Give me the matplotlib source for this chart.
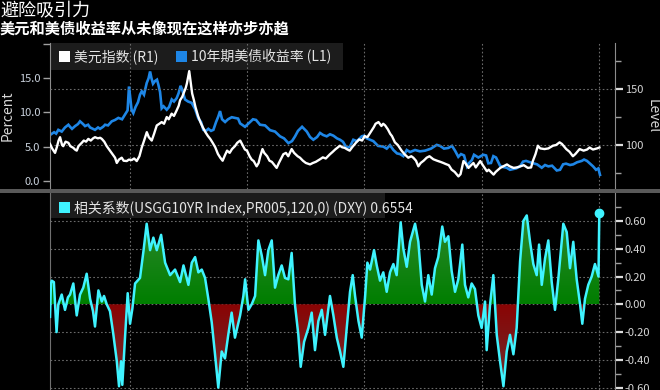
import numpy as np
import matplotlib
matplotlib.use("Agg")
import matplotlib.pyplot as plt
from matplotlib.patches import Rectangle
from matplotlib.path import Path
from matplotlib.colors import LinearSegmentedColormap

plt.rcParams['font.family'] = ['Noto Sans CJK SC', 'DejaVu Sans']

TITLE = "避险吸引力"
SUBTITLE = "美元和美债收益率从未像现在这样亦步亦趋"
DXY_LABEL = "美元指数 (R1)"
YLD_LABEL = "10年期美债收益率 (L1)"
CORR_LABEL = "相关系数(USGG10YR Index,PR005,120,0) (DXY) 0.6554"

# dollar index (right axis, level)
dxy_year = [1973.17, 1973.35, 1973.60, 1973.75, 1973.90, 1974.03, 1974.20, 1974.30, 1974.50, 1974.74,
            1974.90, 1975.16, 1975.30, 1975.45, 1975.60, 1975.88, 1976.05, 1976.25, 1976.44, 1976.65,
            1976.85, 1977.01, 1977.25, 1977.45, 1977.59, 1977.80, 1978.01, 1978.15, 1978.29, 1978.50,
            1978.72, 1978.87, 1979.05, 1979.29, 1979.45, 1979.72, 1979.90, 1980.14, 1980.35, 1980.57,
            1980.80, 1981.00, 1981.20, 1981.43, 1981.60, 1981.85, 1982.05, 1982.28, 1982.50, 1982.70,
            1982.90, 1983.13, 1983.30, 1983.55, 1983.75, 1983.98, 1984.15, 1984.27, 1984.45, 1984.56,
            1984.75, 1984.85, 1985.05, 1985.15, 1985.30, 1985.45, 1985.58, 1985.80, 1986.00, 1986.20,
            1986.43, 1986.65, 1986.84, 1987.05, 1987.27, 1987.50, 1987.70, 1987.90, 1988.10, 1988.28,
            1988.50, 1988.70, 1988.95, 1989.15, 1989.40, 1989.60, 1989.80, 1989.98, 1990.20, 1990.38,
            1990.55, 1990.80, 1990.97, 1991.11, 1991.30, 1991.45, 1991.70, 1991.90, 1992.10, 1992.33,
            1992.51, 1992.70, 1992.90, 1993.08, 1993.30, 1993.50, 1993.79, 1994.00, 1994.30, 1994.50,
            1994.75, 1995.00, 1995.36, 1995.60, 1995.85, 1996.21, 1996.45, 1996.70, 1997.06, 1997.30,
            1997.50, 1997.91, 1998.10, 1998.31, 1998.55, 1998.74, 1998.95, 1999.30, 1999.55, 1999.80,
            2000.02, 2000.25, 2000.52, 2000.80, 2000.95, 2001.20, 2001.45, 2001.60, 2001.77, 2002.00,
            2002.20, 2002.35, 2002.60, 2002.85, 2003.17, 2003.40, 2003.74, 2004.00, 2004.17, 2004.40,
            2004.60, 2004.80, 2005.05, 2005.31, 2005.55, 2005.88, 2006.20, 2006.48, 2006.73, 2006.95,
            2007.20, 2007.44, 2007.70, 2008.02, 2008.20, 2008.45, 2008.60, 2008.88, 2009.10, 2009.30,
            2009.50, 2009.88, 2010.10, 2010.45, 2010.60, 2011.02, 2011.20, 2011.59, 2011.85, 2012.16,
            2012.40, 2012.73, 2013.00, 2013.30, 2013.60, 2013.94, 2014.22, 2014.37, 2014.60, 2014.80,
            2015.00, 2015.37, 2015.70, 2016.08, 2016.35, 2016.65, 2016.85, 2017.22, 2017.50, 2017.79,
            2018.00, 2018.36, 2018.70, 2019.00, 2019.21, 2019.50, 2019.85, 2020.05]
dxy_level = [101, 97, 93, 98, 104, 107, 100, 99, 103, 102,
             99, 97.5, 96, 95, 99, 102, 104, 103, 105.5, 104,
             106, 107, 106, 106.5, 105.5, 103, 99, 97, 95, 92,
             88.7, 84, 87, 88.7, 86, 85.7, 87, 86.6, 88, 85.7,
             90, 97.8, 104, 111.5, 107, 104, 110, 117.5, 119, 120.5,
             119, 125, 123, 128, 126, 131, 135, 140, 143, 146,
             151, 155, 166, 158, 146, 140, 134, 126, 120.5, 116,
             111.5, 108, 105.5, 102, 98, 92, 88.7, 86, 91, 95,
             93, 96.4, 99, 102, 104, 100, 96, 95, 90, 87,
             85.7, 81, 84, 90, 96.4, 93, 90, 86, 85, 82,
             79.6, 84, 88, 91.8, 93, 90, 96.4, 93, 90, 88.7,
             86, 84, 82.7, 84, 85, 87.3, 89, 88, 91.8, 94,
             96, 99.4, 98, 97.5, 96, 95, 98, 102.4, 105, 104,
             108, 107, 111.5, 116, 119, 120.5, 117, 119, 117.5, 114,
             110, 108, 102.4, 100, 95, 92, 88.7, 90, 88.7, 86,
             81, 84, 86, 88.7, 90, 87.3, 86, 85, 84, 83,
             82, 78, 76, 72, 74, 85.7, 84, 79.6, 82, 84,
             80, 85.7, 82, 76.6, 78, 73.6, 76, 79.6, 81, 82.7,
             81, 79.6, 80, 81, 82, 79.6, 80, 85.7, 92, 99.4,
             97, 96.4, 97, 99.4, 100, 102.4, 101, 96.4, 94, 90,
             92, 96.4, 95, 96, 97.8, 96, 97, 97.8]

# 10y treasury yield (left axis, percent)
yld_year = [1973.17, 1973.52, 1973.69, 1973.88, 1974.17, 1974.45, 1974.74, 1974.88, 1975.05, 1975.31,
            1975.56, 1975.73, 1975.99, 1976.16, 1976.42, 1976.59, 1976.84, 1977.01, 1977.27, 1977.44,
            1977.70, 1977.87, 1978.12, 1978.44, 1978.72, 1979.00, 1979.32, 1979.57, 1979.79, 1979.91,
            1980.04, 1980.13, 1980.28, 1980.47, 1980.68, 1980.85, 1981.00, 1981.19, 1981.42, 1981.58,
            1981.71, 1981.83, 1981.96, 1982.13, 1982.30, 1982.41, 1982.56, 1982.70, 1982.86, 1983.13,
            1983.33, 1983.56, 1983.75, 1983.98, 1984.14, 1984.31, 1984.44, 1984.69, 1984.95, 1985.26,
            1985.55, 1985.83, 1986.06, 1986.25, 1986.48, 1986.68, 1986.91, 1987.11, 1987.34, 1987.53,
            1987.68, 1987.85, 1988.11, 1988.36, 1988.68, 1988.96, 1989.22, 1989.39, 1989.81, 1990.24,
            1990.49, 1990.75, 1991.09, 1991.52, 1991.95, 1992.37, 1992.80, 1993.14, 1993.51, 1993.82,
            1994.08, 1994.33, 1994.51, 1994.68, 1995.08, 1995.36, 1995.64, 1995.96, 1996.21, 1996.47,
            1996.78, 1997.06, 1997.35, 1997.66, 1997.92, 1998.17, 1998.49, 1998.77, 1999.05, 1999.37,
            1999.77, 1999.97, 2000.20, 2000.48, 2000.76, 2001.16, 2001.61, 2001.90, 2002.18, 2002.47,
            2002.78, 2003.04, 2003.32, 2003.61, 2003.89, 2004.32, 2004.74, 2005.17, 2005.68, 2006.17,
            2006.45, 2006.79, 2007.16, 2007.47, 2007.73, 2008.01, 2008.24, 2008.50, 2008.75, 2008.93,
            2009.16, 2009.35, 2009.72, 2010.14, 2010.38, 2010.57, 2010.80, 2011.00, 2011.23, 2011.57,
            2011.83, 2012.14, 2012.42, 2012.68, 2012.94, 2013.28, 2013.53, 2013.79, 2014.13, 2014.41,
            2014.73, 2015.13, 2015.41, 2015.69, 2016.01, 2016.41, 2016.69, 2016.95, 2017.20, 2017.54,
            2017.82, 2018.14, 2018.54, 2018.74, 2018.99, 2019.25, 2019.51, 2019.76, 2019.96, 2020.10]
yld_pct = [6.7, 7.1, 6.9, 7.45, 7.2, 7.8, 8.2, 7.9, 7.6, 8.0,
           8.3, 8.7, 8.3, 8.0, 8.2, 7.8, 7.6, 7.45, 7.8, 7.6,
           7.9, 8.2, 8.1, 8.7, 8.9, 9.2, 9.0, 9.7, 10.3, 13.8,
           11.8, 10.4, 9.9, 10.8, 11.5, 12.6, 13.1, 12.6, 14.3, 15.0,
           16.0, 15.0, 14.2, 14.6, 14.8, 14.1, 13.0, 10.6, 10.9, 10.4,
           10.8, 11.9, 11.6, 12.1, 12.8, 13.9, 13.4, 11.9, 11.6, 11.4,
           10.5, 9.1, 8.6, 7.45, 7.3, 7.6, 7.3, 7.45, 8.6, 9.4,
           10.2, 9.0, 8.6, 9.0, 9.3, 9.2, 9.1, 8.4, 7.9, 8.6,
           9.0, 8.9, 8.2, 8.1, 7.4, 7.2, 6.5, 6.2, 5.5, 5.8,
           6.5, 7.3, 7.6, 7.9, 7.2, 6.4, 6.0, 6.4, 7.0, 6.7,
           6.5, 6.8, 6.6, 6.2, 6.0, 5.7, 4.8, 5.0, 6.0, 5.8,
           6.5, 6.6, 6.2, 6.0, 5.8, 5.1, 5.0, 4.7, 5.2, 4.5,
           4.0, 3.9, 3.6, 4.5, 4.2, 4.5, 4.3, 4.4, 4.7, 5.25,
           5.1, 4.7, 4.8, 5.1, 4.4, 3.5, 3.9, 3.7, 2.1, 2.6,
           3.0, 3.8, 3.4, 3.8, 3.7, 2.55, 2.6, 3.6, 3.4, 2.2,
           2.0, 1.9, 1.6, 1.7, 1.8, 2.1, 2.8, 2.9, 2.7, 2.55,
           2.4, 1.9, 2.3, 2.1, 2.2, 1.5, 1.6, 2.4, 2.5, 2.3,
           2.4, 2.7, 2.9, 3.1, 2.9, 2.5, 2.1, 1.6, 1.8, 0.85]

# rolling correlation, yield vs dollar index
corr_year = [1973.17, 1973.25, 1973.32, 1973.50, 1973.73, 1973.88, 1974.17, 1974.45, 1974.70, 1974.88,
             1975.16, 1975.45, 1975.73, 1976.01, 1976.30, 1976.59, 1976.84, 1977.01, 1977.30, 1977.59,
             1977.78, 1978.01, 1978.29, 1978.58, 1978.87, 1979.06, 1979.23, 1979.34, 1979.57, 1979.80,
             1980.00, 1980.20, 1980.43, 1980.85, 1981.14, 1981.42, 1981.71, 1981.99, 1982.28, 1982.65,
             1982.99, 1983.42, 1983.84, 1984.27, 1984.56, 1984.98, 1985.27, 1985.55, 1985.83, 1986.12,
             1986.40, 1986.68, 1986.97, 1987.25, 1987.53, 1987.82, 1988.10, 1988.38, 1988.67, 1988.95,
             1989.39, 1989.67, 1989.82, 1990.10, 1990.38, 1990.67, 1990.95, 1991.24, 1991.52, 1991.80,
             1992.09, 1992.37, 1992.65, 1992.94, 1993.22, 1993.51, 1993.79, 1994.07, 1994.36, 1994.56,
             1994.85, 1995.22, 1995.50, 1995.78, 1996.07, 1996.36, 1996.64, 1997.06, 1997.35, 1997.64,
             1997.92, 1998.20, 1998.49, 1998.77, 1999.00, 1999.20, 1999.49, 1999.77, 2000.06, 2000.25,
             2000.48, 2000.82, 2001.05, 2001.33, 2001.61, 2001.90, 2002.18, 2002.47, 2002.75, 2003.09,
             2003.32, 2003.61, 2003.89, 2004.32, 2004.60, 2004.89, 2005.17, 2005.45, 2005.74, 2006.02,
             2006.30, 2006.64, 2006.87, 2007.16, 2007.44, 2007.73, 2008.01, 2008.35, 2008.58, 2008.86,
             2009.15, 2009.43, 2009.72, 2010.00, 2010.29, 2010.43, 2010.72, 2011.00, 2011.29, 2011.57,
             2011.86, 2012.14, 2012.42, 2012.71, 2012.99, 2013.28, 2013.56, 2013.85, 2014.13, 2014.41,
             2014.70, 2014.90, 2015.13, 2015.41, 2015.69, 2015.98, 2016.26, 2016.54, 2016.97, 2017.26,
             2017.54, 2017.82, 2018.11, 2018.40, 2018.59, 2018.82, 2019.10, 2019.39, 2019.67, 2019.97,
             2020.04]
corr_val = [-0.09, 0.15, 0.17, 0.16, -0.20, 0.00, 0.07, -0.04, 0.05, 0.07,
            0.15, -0.08, 0.07, 0.12, 0.22, 0.04, -0.05, -0.16, 0.10, 0.02,
            0.06, 0.00, -0.05, -0.22, -0.41, -0.59, -0.41, -0.58, -0.24, 0.08,
            -0.14, -0.03, 0.15, 0.19, 0.38, 0.58, 0.39, 0.48, 0.39, 0.50,
            0.30, 0.21, 0.25, 0.16, 0.28, 0.14, 0.30, 0.34, 0.23, 0.25,
            0.19, 0.04, -0.13, -0.36, -0.60, -0.34, -0.39, -0.22, -0.06, -0.24,
            -0.08, 0.06, 0.18, -0.04, 0.00, 0.06, 0.46, 0.35, 0.21, 0.39,
            0.46, 0.12, 0.21, 0.28, 0.19, 0.18, 0.37, 0.00, -0.22, -0.45,
            -0.27, -0.17, -0.06, -0.33, -0.12, -0.04, -0.22, 0.06, -0.08, -0.24,
            -0.34, -0.45, -0.17, 0.09, 0.21, 0.06, -0.12, -0.24, 0.06, 0.30,
            0.25, 0.39, 0.28, 0.17, 0.23, 0.09, 0.23, 0.29, 0.21, 0.59,
            0.40, 0.27, 0.45, 0.58, 0.45, 0.14, 0.02, 0.21, 0.07, 0.26,
            0.34, 0.56, 0.45, 0.49, 0.24, 0.09, 0.18, 0.43, 0.14, 0.05,
            0.15, 0.11, -0.08, -0.17, 0.02, -0.33, 0.00, 0.21, -0.22, -0.41,
            -0.59, -0.34, -0.22, -0.36, -0.17, 0.31, 0.60, 0.64, 0.45, 0.29,
            0.21, 0.43, 0.14, 0.33, 0.46, 0.16, -0.04, 0.18, 0.58, 0.52,
            0.26, 0.45, 0.18, 0.00, -0.14, 0.04, 0.14, 0.20, 0.29, 0.20,
            0.6554]

grid_years = [1980, 1990, 2000, 2010, 2020]
pct_ticks = [0, 5, 10, 15, 20]
pct_labels = ["0.0", "5.0", "10.0", "15.0", ""]
level_ticks = [100, 150]
level_minor = [75, 125, 175]
corr_ticks = [-0.6, -0.4, -0.2, 0.0, 0.2, 0.4, 0.6]
corr_minor = [-0.5, -0.3, -0.1, 0.1, 0.3, 0.5, 0.7]

W, H = 660, 390
BG = "black"
GRID = dict(color="#6a6a6a", linestyle=(0, (1.5, 2.0)), linewidth=0.8)
SPINE = "#8c8c8c"
TXT = "#d6d6d6"
BLUE = "#1e86e6"
CYAN = "#3ff3ff"


def fx(px):
    return px / W


def fy(py):
    return 1 - py / H


def grad_fill(ax, x, y, where, c_near, c_far, lo, hi, near_is_low):
    coll = ax.fill_between(x, 0, y, where=where, interpolate=True,
                           facecolor="none", edgecolor="none")
    paths = coll.get_paths()
    if not paths:
        return
    clip = Path.make_compound_path(*paths)
    cols = [c_near, c_far] if near_is_low else [c_far, c_near]
    cmap = LinearSegmentedColormap.from_list("g", cols)
    grad = np.linspace(0, 1, 256).reshape(-1, 1)
    im = ax.imshow(grad, extent=[x[0], x[-1], lo, hi], origin="lower",
                   aspect="auto", cmap=cmap, zorder=1.6, interpolation="bilinear")
    im.set_clip_path(clip, transform=ax.transData)


fig = plt.figure(figsize=(W / 100, H / 100), dpi=100, facecolor=BG)

x0, x1 = 1973.17, 2021.38

# ---------- top panel ----------
ax1 = fig.add_axes([fx(50), fy(188.5), fx(615 - 50), (188.5 - 43) / H], facecolor=BG)
ax1.set_xlim(x0, x1)
ax1.set_ylim(-1.14, 20.17)
ax1.plot(yld_year, yld_pct, color=BLUE, lw=1.9, zorder=2, solid_joinstyle="miter")
ax1.set_xticks(grid_years)
ax1.tick_params(axis="x", length=0, labelbottom=False)
ax1.grid(axis="x", **GRID)
ax1.set_yticks(pct_ticks)
ax1.set_yticklabels(pct_labels)
ax1.tick_params(axis="y", length=5, width=1, color="#a0a0a0", labelcolor="#c9d1dc",
                labelsize=8, pad=2)
for s in ("top", "bottom", "right"):
    ax1.spines[s].set_visible(False)
ax1.spines["left"].set_color(SPINE)
ax1.set_ylabel("Percent", color=TXT, fontsize=10)
ax1.yaxis.set_label_coords((15 - 50) / 565, 0.5)

# legend box for the top panel (under the x grid)
ax1.add_patch(Rectangle((fx(50), fy(70)), fx(343 - 50), 27 / H, transform=fig.transFigure,
                        facecolor="#1c1c1c", edgecolor="none", zorder=1))

ax1r = ax1.twinx()
ax1r.set_ylim(61.2, 191.1)
ax1r.plot(dxy_year, dxy_level, color="white", lw=1.7, zorder=2)
ax1r.set_yticks(level_ticks)
ax1r.set_yticks(level_minor, minor=True)
ax1r.tick_params(axis="y", which="major", length=6, width=1.6, color="#dcdcdc",
                 labelcolor=TXT, labelsize=8, pad=1)
ax1r.tick_params(axis="y", which="minor", length=4, width=1, color="#a0a0a0")
ax1r.grid(axis="y", **GRID)
for s in ("top", "bottom", "left"):
    ax1r.spines[s].set_visible(False)
ax1r.spines["right"].set_color(SPINE)
ax1r.set_ylabel("Level", color=TXT, fontsize=10, rotation=270)
ax1r.yaxis.set_label_coords((660 - 50) / 565, 0.5)

# ---------- bottom panel ----------
ax2 = fig.add_axes([fx(50), 0, fx(615 - 50), (H - 192.5) / H], facecolor=BG)
ax2.set_xlim(x0, x1)
cy = np.array(corr_year)
cv = np.array(corr_val)
grad_fill(ax2, cy, cv, cv >= 0, "#007e00", "#3a8a3a", 0, 0.8, True)
grad_fill(ax2, cy, cv, cv <= 0, "#8a0404", "#6a3030", -0.62, 0, False)
ax2.plot(cy, cv, color=CYAN, lw=1.8, zorder=3)
ax2.plot(cy[-1:], cv[-1:], "o", color=CYAN, ms=6, zorder=4)
ax2.set_xlim(x0, x1)
ax2.set_ylim(-0.617, 0.805)
ax2.set_xticks(grid_years)
ax2.tick_params(axis="x", length=0, labelbottom=False)
ax2.grid(axis="both", **GRID)
ax2.yaxis.tick_right()
ax2.set_yticks(corr_ticks)
ax2.set_yticklabels([f"{v:.2f}" for v in corr_ticks])
ax2.set_yticks(corr_minor, minor=True)
ax2.tick_params(axis="y", which="major", length=6, width=1.6, color="#dcdcdc",
                labelcolor=TXT, labelsize=8, pad=1)
ax2.tick_params(axis="y", which="minor", length=4, width=1, color="#a0a0a0")
ax2.tick_params(axis="y", which="minor", left=False)
for s in ("top", "bottom"):
    ax2.spines[s].set_visible(False)
ax2.spines["left"].set_color("#707070")
ax2.spines["right"].set_color(SPINE)
ax2.add_patch(Rectangle((fx(50), fy(218)), fx(385 - 50), 25 / H, transform=fig.transFigure,
                        facecolor="#1c1c1c", edgecolor="none", zorder=1.7))

# separator bar between panels
fig.patches.append(Rectangle((0, fy(192.5)), 1, 4 / H, transform=fig.transFigure,
                             facecolor="#595959", edgecolor="none", zorder=5))

# legends
fig.patches.append(Rectangle((fx(59), fy(62)), fx(11), 11 / H, transform=fig.transFigure,
                             facecolor="white", edgecolor="none", zorder=6))
fig.text(fx(74), fy(56.5), DXY_LABEL, color="#e4e4e4", fontsize=10, va="center", zorder=6)
fig.patches.append(Rectangle((fx(176), fy(62)), fx(11), 11 / H, transform=fig.transFigure,
                             facecolor=BLUE, edgecolor="none", zorder=6))
fig.text(fx(191), fy(56.5), YLD_LABEL, color="#e4e4e4", fontsize=10, va="center", zorder=6)
fig.patches.append(Rectangle((fx(59), fy(213)), fx(11), 11 / H, transform=fig.transFigure,
                             facecolor=CYAN, edgecolor="none", zorder=6))
fig.text(fx(74), fy(207.5), CORR_LABEL, color="#e4e4e4", fontsize=10, va="center", zorder=6)

# titles
fig.text(fx(1), fy(11.5), TITLE, color="white", fontsize=13, va="center")
fig.text(fx(0), fy(29), SUBTITLE, color="white", fontsize=11, fontweight="bold", va="center")

fig.savefig("out.png", dpi=100, facecolor=BG)
